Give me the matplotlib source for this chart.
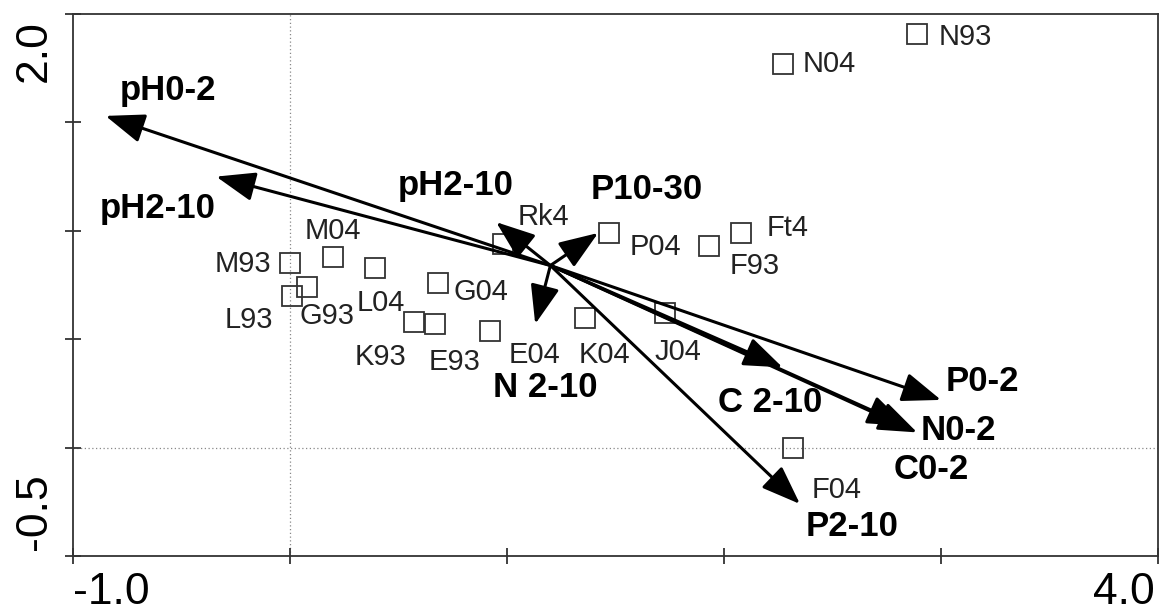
import matplotlib
matplotlib.use("Agg")
import matplotlib.pyplot as plt
from matplotlib.transforms import blended_transform_factory

plt.rcParams['font.family'] = ['Liberation Sans', 'DejaVu Sans']

# ---- data ----
arrow_origin = (1.20, 0.84)
var_names = ["pH0-2", "pH2-10", "pH2-10", "P10-30", "N 2-10", "C 2-10",
             "P0-2", "N0-2", "C0-2", "P2-10"]
var_x = [-0.85, -0.34, 0.95, 1.42, 1.13, 2.27, 3.00, 2.89, 2.84, 2.35]
var_y = [1.53, 1.25, 1.04, 0.99, 0.57, 0.37, 0.22, 0.07, 0.10, -0.26]
var_label_off = [(62, 25), (-59, -32), (-40, 37), (49, 43), (10, -63), (-12, -35),
                 (41, 18), (41, 2), (25, -44), (52, -23)]

site_names = ["N93", "N04", "Ft4", "F93", "P04", "Rk4", "J04", "K04", "E04", "E93",
              "K93", "G04", "L04", "M04", "M93", "G93", "L93", "F04"]
site_x = [2.89, 2.27, 2.08, 1.93, 1.47, 0.98, 1.73, 1.36, 0.92, 0.67,
          0.57, 0.68, 0.39, 0.20, 0.00, 0.08, 0.01, 2.32]
site_y = [1.91, 1.77, 0.99, 0.93, 0.99, 0.94, 0.62, 0.60, 0.54, 0.57,
          0.58, 0.76, 0.83, 0.88, 0.85, 0.74, 0.70, 0.00]
site_label_off = [(48, -3), (47, 0), (46, 5), (46, -20), (46, -14), (41, 27),
                  (13, -39), (19, -37), (45, -24), (19, -38), (-33, -35), (43, -9),
                  (6, -35), (-1, 26), (-47, -1), (20, -29), (-43, -24), (43, -42)]

xlim = (-1.0, 4.0)
ylim = (-0.5, 2.0)
xticks = [-1, 0, 1, 2, 3, 4]
yticks = [-0.5, 0.0, 0.5, 1.0, 1.5, 2.0]

# ---- figure ----
fig = plt.figure(figsize=(11.6, 6.16), dpi=100)
ax = fig.add_axes([73 / 1160, 1 - 556 / 616, (1158 - 73) / 1160, (556 - 14) / 616])
ax.set_xlim(*xlim)
ax.set_ylim(*ylim)

ax.axhline(0, color='#888888', lw=0.9, ls=(0, (1, 2)), zorder=1)
ax.axvline(0, color='#888888', lw=0.9, ls=(0, (1, 2)), zorder=1)

# sites
ax.plot(site_x, site_y, ls='none', marker='s', ms=15, mfc='none',
        mec='#333333', mew=1.3, zorder=2)
for n, x, y, off in zip(site_names, site_x, site_y, site_label_off):
    ax.annotate(n, (x, y), xytext=off, textcoords='offset pixels',
                ha='center', va='center', fontsize=21, color='#222222', zorder=4)

# arrows
for n, x, y, off in zip(var_names, var_x, var_y, var_label_off):
    ax.annotate('', xy=(x, y), xytext=arrow_origin,
                arrowprops=dict(arrowstyle='-|>,head_length=1.6,head_width=0.6',
                                mutation_scale=15, lw=2.2, color='black',
                                shrinkA=0, shrinkB=0), zorder=3)
    ax.annotate(n, (x, y), xytext=off, textcoords='offset pixels',
                ha='center', va='center', fontsize=25, fontweight='bold',
                color='black', zorder=4)

# axes styling
for s in ax.spines.values():
    s.set_linewidth(1.3)
    s.set_color('#333333')
ax.set_xticks(xticks)
ax.set_yticks(yticks)
ax.set_xticklabels([])
ax.set_yticklabels([])
ax.tick_params(direction='inout', length=11, width=1.3, color='#333333')

bx = blended_transform_factory(ax.transData, ax.transAxes)
by = blended_transform_factory(ax.transAxes, ax.transData)
ax.annotate(f"{xlim[0]:.1f}", (xlim[0], 0), xycoords=bx, xytext=(0, -16),
            textcoords='offset pixels', ha='left', va='top', fontsize=32)
ax.annotate(f"{xlim[1]:.1f}", (xlim[1], 0), xycoords=bx, xytext=(-3, -16),
            textcoords='offset pixels', ha='right', va='top', fontsize=32)
ax.annotate(f"{ylim[1]:.1f}", (0, ylim[1]), xycoords=by, xytext=(-18, -6),
            textcoords='offset pixels', ha='right', va='top', fontsize=32, rotation=90)
ax.annotate(f"{ylim[0]:.1f}", (0, ylim[0]), xycoords=by, xytext=(-18, 6),
            textcoords='offset pixels', ha='right', va='bottom', fontsize=32, rotation=90)

fig.savefig("out.png", dpi=100)
